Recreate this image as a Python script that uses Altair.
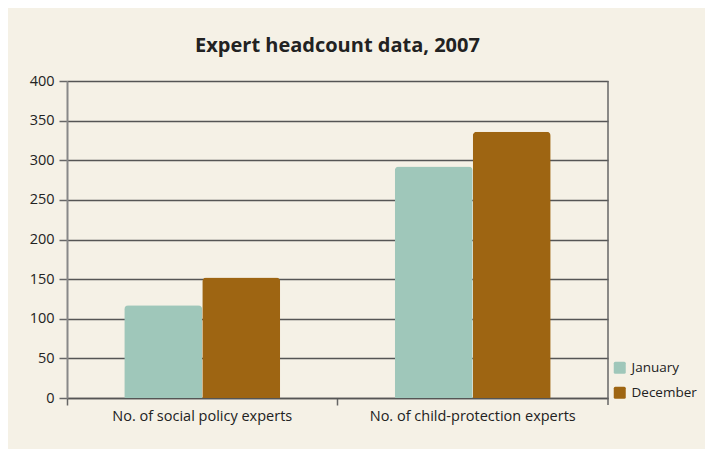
import altair as alt
import pandas as pd

categories = ["No. of social policy experts", "No. of child-protection experts"]
months = ["January", "December"]
january = [117, 292]
december = [152, 336]
y_ticks = [0, 50, 100, 150, 200, 250, 300, 350, 400]
colors = ["#9FC7BA", "#9E6512"]

rows = []
for i, c in enumerate(categories):
    rows.append({"category": c, "month": "January", "value": january[i]})
    rows.append({"category": c, "month": "December", "value": december[i]})
df = pd.DataFrame(rows)

FONT = "Open Sans"
W, H = 541, 317

bars = alt.Chart(df).mark_bar(cornerRadiusTopLeft=4, cornerRadiusTopRight=4).encode(
    x=alt.X(
        "category:N",
        sort=categories,
        scale=alt.Scale(paddingInner=0, paddingOuter=0),
        axis=alt.Axis(
            title=None, labelAngle=0, bandPosition=0, tickSize=7, tickColor="#666",
            tickWidth=1.5, domainColor="#555", domainWidth=1.5, labelFontSize=14.5,
            labelPadding=4, labelColor="#222", grid=False, labelFont=FONT, labelLimit=0,
        ),
    ),
    xOffset=alt.XOffset("month:N", sort=months,
                        scale=alt.Scale(paddingInner=0, paddingOuter=0.734)),
    y=alt.Y(
        "value:Q",
        scale=alt.Scale(domain=[0, 400]),
        axis=alt.Axis(
            values=y_ticks, title=None, tickSize=8, tickColor="#666", tickWidth=1.5,
            domainColor="#888", domainWidth=2, labelFontSize=14.5, labelPadding=5,
            labelColor="#222", grid=True, gridColor="#555", gridWidth=1.3,
            gridOpacity=1, labelFont=FONT,
        ),
    ),
    color=alt.Color(
        "month:N",
        sort=months,
        scale=alt.Scale(domain=months, range=colors),
        legend=alt.Legend(
            title=None, orient="none", legendX=546, legendY=280,
            symbolType="M-0.75,-1 H0.75 Q1,-1 1,-0.75 V0.75 Q1,1 0.75,1 H-0.75 Q-1,1 -1,0.75 V-0.75 Q-1,-1 -0.75,-1 Z",
            symbolSize=144, symbolStrokeWidth=0, labelFontSize=13.5, labelColor="#222",
            labelFont=FONT, rowPadding=10, labelOffset=5, labelLimit=0,
        ),
    ),
)

border = alt.Chart(pd.DataFrame({"a": [0]})).mark_rule(color="#666", strokeWidth=1.5).encode(
    x=alt.value(W), y=alt.value(0), y2=alt.value(H + 7)
)

chart = alt.layer(border, bars).properties(
    width=W,
    height=H,
    autosize="none",
    padding={"left": 59, "top": 73, "right": 97, "bottom": 51},
    background="#F5F1E6",
    title=alt.TitleParams(
        "Expert headcount data, 2007", anchor="middle", frame="group",
        fontSize=20, font=FONT, fontWeight="bold", color="#222", offset=17,
    ),
).configure_view(stroke=None)

chart.save("out.html", embed_options={"renderer": "svg", "actions": False})
